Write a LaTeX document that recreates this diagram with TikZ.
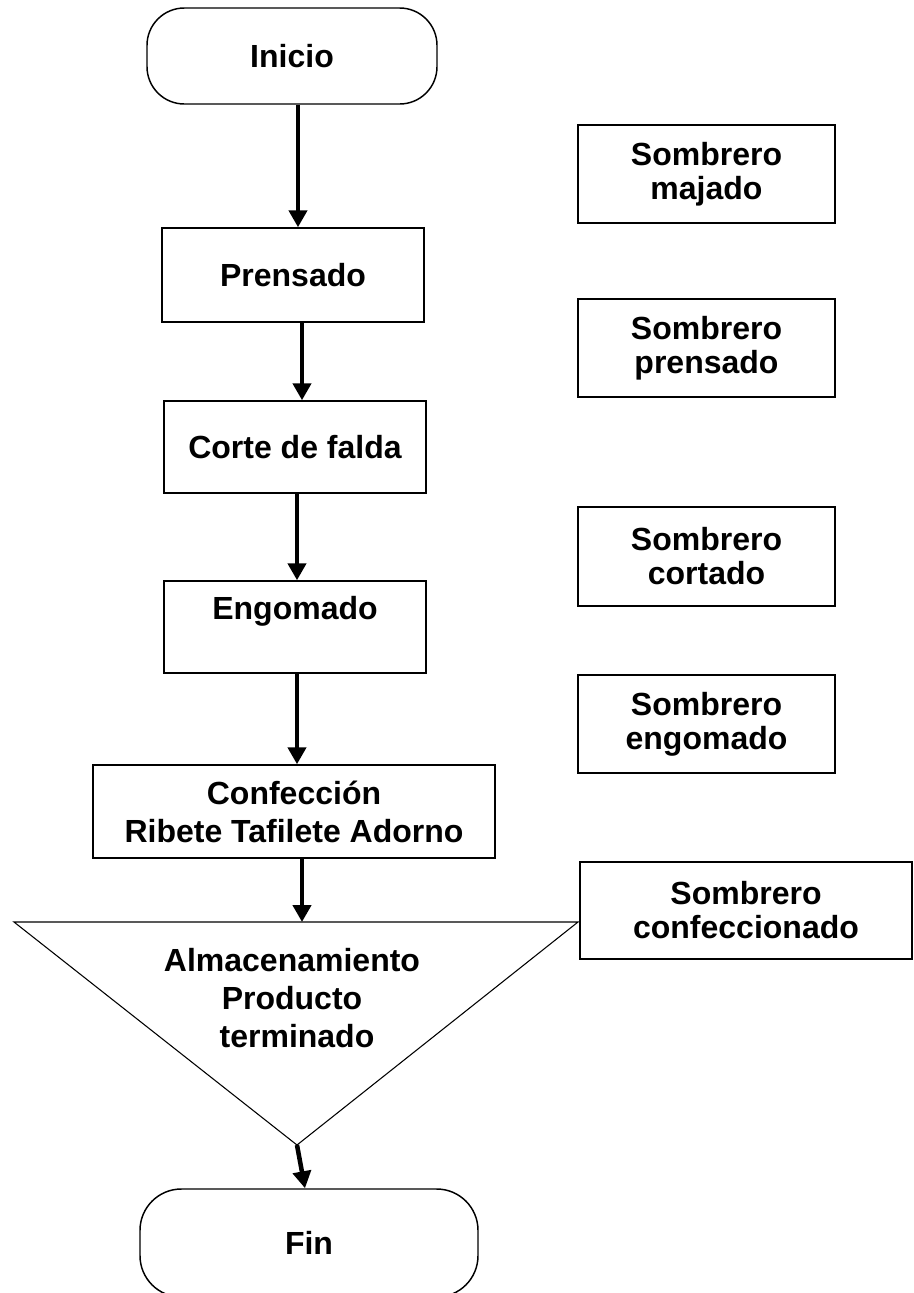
\documentclass[tikz,border=0pt]{standalone}
\usepackage{fontspec}
\setmainfont{Liberation Sans}
\usepackage{tikz}
\usetikzlibrary{calc}
\usetikzlibrary{arrows.meta}

\tikzset{
  proc/.style={draw, line width=1.1pt, inner sep=0pt, align=center,
    font=\fontsize{24}{28.5}\selectfont\bfseries},
  term/.style={proc, rounded corners=28pt},
  prod/.style={proc, minimum width=192.75pt, minimum height=73.5pt,
    font=\fontsize{24}{25.5}\selectfont\bfseries},
  flow/.style={line width=3.4pt, -{Triangle[width=13.5pt,length=12.75pt]}}
}

\begin{document}
\begin{tikzpicture}[x=0.75pt,y=-0.75pt]
    \useasboundingbox (0,0) rectangle (914,1293);

    % Start and end
    \node[term, minimum width=217.5pt, minimum height=72pt] (ini) at (292,56) {Inicio};
    \node[term, minimum width=253.5pt, minimum height=81pt, rounded corners=31pt] (fin) at (309,1243) {Fin};

    % Process steps
    \node[proc, minimum width=196.5pt, minimum height=70.5pt] (pren) at (293,275) {Prensado};
    \node[proc, minimum width=196.5pt, minimum height=69pt] (corte) at (295,447) {Corte de falda};
    \node[proc, minimum width=196.5pt, minimum height=69pt] (engo) at (295,627) {Engomado\\~};
    \node[proc, minimum width=301.5pt, minimum height=69.75pt] (conf) at (294,811.5) {Confección\\Ribete Tafilete Adorno};

    % Storage
    \coordinate (almtl) at (14,922);
    \coordinate (almtr) at (578,922);
    \coordinate (almbot) at (297,1145);
    \coordinate (almtop) at (302,922);
    \draw[line width=0.8pt] (almtl) -- (almtr) -- (almbot) -- cycle;
    \node[align=center, font=\fontsize{24}{28.5}\selectfont\bfseries] (alm) at (292,998)
        {Almacenamiento\\Producto\\\hspace*{7.5pt}terminado};

    % Products
    \node[prod] (smaj) at (706.5,174) {Sombrero\\majado};
    \node[prod] (spren) at (706.5,348) {Sombrero\\prensado};
    \node[prod, minimum height=74.25pt] (scort) at (706.5,556.5) {Sombrero\\cortado};
    \node[prod] (sengo) at (706.5,724) {Sombrero\\engomado};
    \node[prod, minimum width=249pt, minimum height=72.75pt] (sconf) at (746,910.5) {Sombrero\\confeccionado};

    % Arrows
    \draw[flow] ($(ini.south)+(6,0)$) -- ($(pren.north)+(5,0)$);
    \draw[flow] ($(pren.south)+(9,0)$) -- ($(corte.north)+(7,0)$);
    \draw[flow] ($(corte.south)+(2,0)$) -- ($(engo.north)+(2,0)$);
    \draw[flow] ($(engo.south)+(2,0)$) -- ($(conf.north)+(3,0)$);
    \draw[flow] ($(conf.south)+(8,0)$) -- (almtop);
    \draw[flow] (almbot) -- ($(fin.north)+(-4,0)$);
\end{tikzpicture}
\end{document}
